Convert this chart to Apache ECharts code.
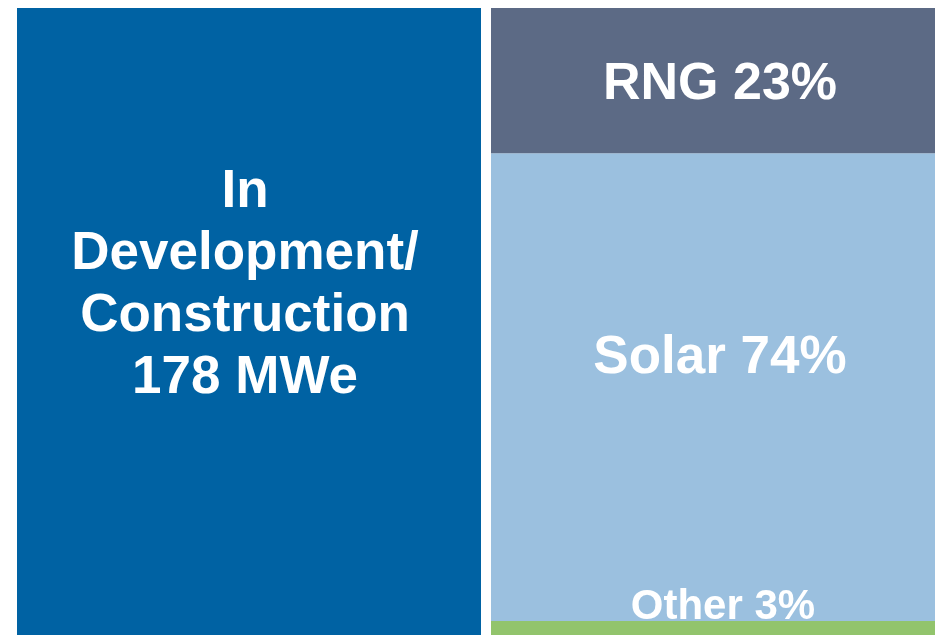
<!DOCTYPE html>
<html>
<head>
<meta charset="utf-8">
<script src="https://cdn.jsdelivr.net/npm/echarts@6/dist/echarts.min.js"></script>
<style>
  html, body { margin: 0; padding: 0; background: #fff; }
  #chart { width: 935px; height: 635px; }
</style>
</head>
<body>
<div id="chart"></div>
<script>
// 左边大块：在建项目
var totalName = "In\nDevelopment/\nConstruction\n178 MWe";
var totalValue = [100];

// 右边构成（从下往上堆叠）
var mixNames = ["Other", "Solar", "RNG"];
var mixValues = [3, 74, 23];
var mixColors = ["#92c46c", "#9bc0df", "#5c6a85"];

var chartDom = document.getElementById("chart");
var myChart = echarts.init(chartDom);

var font = "Liberation Sans, Arial, sans-serif";
// 每个标签在色块里的位置（相对色块左上角），文字略偏右
var labelPos = [[232, -14], [229, 205], [229, 77]];
var labelSize = [42, 53, 52];

var series = [
  {
    name: "Total",
    type: "bar",
    xAxisIndex: 0,
    yAxisIndex: 0,
    barWidth: "100%",
    data: totalValue,
    itemStyle: { color: "#0062a3" },
    label: {
      show: true,
      position: [228, 277],
      align: "center",
      verticalAlign: "middle",
      formatter: totalName,
      color: "#fff",
      fontFamily: font,
      fontWeight: "bold",
      fontSize: 53,
      lineHeight: 62,
    },
  },
];

mixNames.forEach(function (name, i) {
  series.push({
    name: name,
    type: "bar",
    stack: "mix",
    xAxisIndex: 1,
    yAxisIndex: 1,
    barWidth: "100%",
    data: [mixValues[i]],
    itemStyle: { color: mixColors[i] },
    label: {
      show: true,
      position: labelPos[i],
      align: "center",
      verticalAlign: "middle",
      formatter: name + " " + mixValues[i] + "%",
      color: "#fff",
      fontFamily: font,
      fontWeight: "bold",
      fontSize: labelSize[i],
    },
  });
});

// 图片底部被裁掉一点，所以 y 轴从 0.8 开始
var option = {
  animation: false,
  grid: [
    { left: 17, width: 464, top: 8, bottom: 0 },
    { left: 491, width: 444, top: 8, bottom: 0 },
  ],
  xAxis: [
    { type: "category", gridIndex: 0, data: ["Total"], show: false },
    { type: "category", gridIndex: 1, data: ["Mix"], show: false },
  ],
  yAxis: [
    { type: "value", gridIndex: 0, min: 0.8, max: 100, show: false },
    { type: "value", gridIndex: 1, min: 0.8, max: 100, show: false },
  ],
  series: series,
};

option && myChart.setOption(option);
</script>
</body>
</html>
